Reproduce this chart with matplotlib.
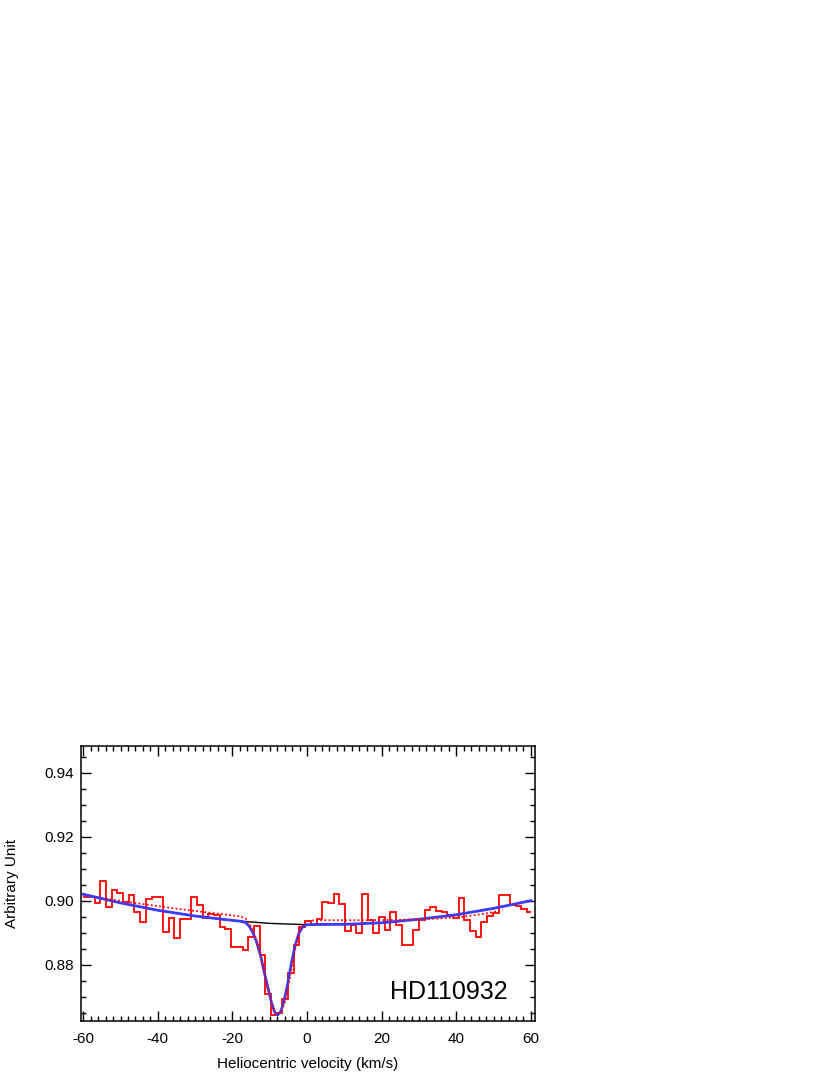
import numpy as np
import matplotlib
matplotlib.use("Agg")
import matplotlib.pyplot as plt
from matplotlib.ticker import MultipleLocator

plt.rcParams['font.family'] = ['Liberation Sans', 'DejaVu Sans']
plt.rcParams['axes.unicode_minus'] = False

# observed spectrum, binned (km/s), step width ~1.525 km/s
bin_start = -60.0
bin_width = 1.525
flux = [0.9013, 0.9013, 0.8992, 0.9060, 0.8979, 0.9033, 0.9023, 0.8997,
        0.9018, 0.8964, 0.8934, 0.9005, 0.9013, 0.9013, 0.8901, 0.8945,
        0.8884, 0.8943, 0.8943, 0.9013, 0.8985, 0.8945, 0.8958, 0.8955,
        0.8919, 0.8910, 0.8856, 0.8856, 0.8846, 0.8888, 0.8920, 0.8830,
        0.8710, 0.8643, 0.8650, 0.8693, 0.8774, 0.8862, 0.8919, 0.8937,
        0.8925, 0.8942, 0.8997, 0.8994, 0.9020, 0.8989, 0.8905, 0.8924,
        0.8900, 0.9020, 0.8940, 0.8898, 0.8948, 0.8908, 0.8966, 0.8924,
        0.8862, 0.8862, 0.8908, 0.8940, 0.8971, 0.8981, 0.8968, 0.8964,
        0.8955, 0.8946, 0.9007, 0.8940, 0.8905, 0.8888, 0.8934, 0.8952,
        0.8962, 0.9018, 0.9018, 0.8987, 0.8982, 0.8973, 0.8966]
v_end = 59.9

# continuum (black)
cont_v = [-60, -50, -40, -30, -20, -10, 0, 10, 20, 30, 40, 50, 60]
cont_f = [0.9020, 0.8993, 0.8970, 0.8952, 0.8938, 0.8929, 0.8925,
          0.8926, 0.8931, 0.8942, 0.8956, 0.8976, 0.9000]

# fitted profile (blue)
fit_v = [-60, -50, -40, -30, -22, -18, -16.5, -15.5, -14.5, -13.5, -12.5,
         -11.5, -10.5, -9.5, -8.7, -7.9, -7.0, -6.2, -5.2, -4.2, -3.2,
         -2.2, -1.2, 0, 5, 10, 20, 30, 40, 50, 60]
fit_f = [0.9020, 0.8993, 0.8970, 0.8952, 0.8941, 0.8936, 0.8932, 0.8920,
         0.8900, 0.8870, 0.8830, 0.8778, 0.8727, 0.8680, 0.8652, 0.8643,
         0.8655, 0.8685, 0.8740, 0.8805, 0.8860, 0.8898, 0.8918, 0.8925,
         0.8926, 0.8926, 0.8931, 0.8942, 0.8956, 0.8976, 0.9000]

# alternative fit (red dotted)
alt_v = [-54, -45, -35, -28, -22, -18, -16.5, -15.5, -14.5, -13.5, -12.5,
         -11.5, -10.5, -9.5, -8.5, -7.8, -7.0, -6.0, -5.0, -4.0, -3.0,
         -2.0, -1.0, 0, 2, 8, 15, 25, 35, 42, 48, 52.5]
alt_f = [0.9006, 0.8991, 0.8975, 0.8965, 0.8957, 0.8951, 0.8945, 0.8930,
         0.8905, 0.8872, 0.8830, 0.8778, 0.8725, 0.8678, 0.8650, 0.8645,
         0.8652, 0.8683, 0.8735, 0.8800, 0.8860, 0.8905, 0.8928, 0.8936,
         0.8939, 0.8939, 0.8939, 0.8940, 0.8944, 0.8950, 0.8960, 0.8970]

fig = plt.figure(figsize=(8.3, 10.75), dpi=100)
ax = fig.add_axes([0.0976, 0.0502, 0.547, 0.2558])

edges = bin_start + bin_width * np.arange(len(flux))
edges = np.append(edges, v_end)
ax.stairs(flux, edges, color='#ff0000', lw=1.3, baseline=None, zorder=2)

ax.plot(cont_v, cont_f, color='black', lw=1.0, zorder=3)
ax.plot(fit_v, fit_f, color='#3c3cf5', lw=2.0, zorder=4)
ax.plot(alt_v, alt_f, color='#ff0000', lw=1.3, ls=(0, (1, 1.3)), zorder=5)

ax.text(53.7, 0.8692, 'HD110932', fontsize=18, ha='right', va='baseline')

ax.set_xlim(-60.6, 61.1)
ax.set_ylim(0.8624, 0.9483)
ax.xaxis.set_major_locator(MultipleLocator(20))
ax.xaxis.set_minor_locator(MultipleLocator(2))
ax.yaxis.set_major_locator(MultipleLocator(0.02))
ax.yaxis.set_minor_locator(MultipleLocator(0.005))
ax.yaxis.set_major_formatter(plt.FormatStrFormatter('%.2f'))
ax.tick_params(which='both', direction='in', top=True, right=True, width=1.0)
ax.tick_params(which='major', length=7)
ax.tick_params(which='minor', length=3.5)
ax.tick_params(axis='x', pad=8, labelsize=11)
ax.tick_params(axis='y', pad=5, labelsize=11)
for s in ax.spines.values():
    s.set_linewidth(1.1)

ax.set_xlabel('Heliocentric velocity (km/s)', fontsize=11, labelpad=8)
ax.set_ylabel('Arbitrary Unit', fontsize=11, labelpad=18)

fig.savefig('out.png', dpi=100)
